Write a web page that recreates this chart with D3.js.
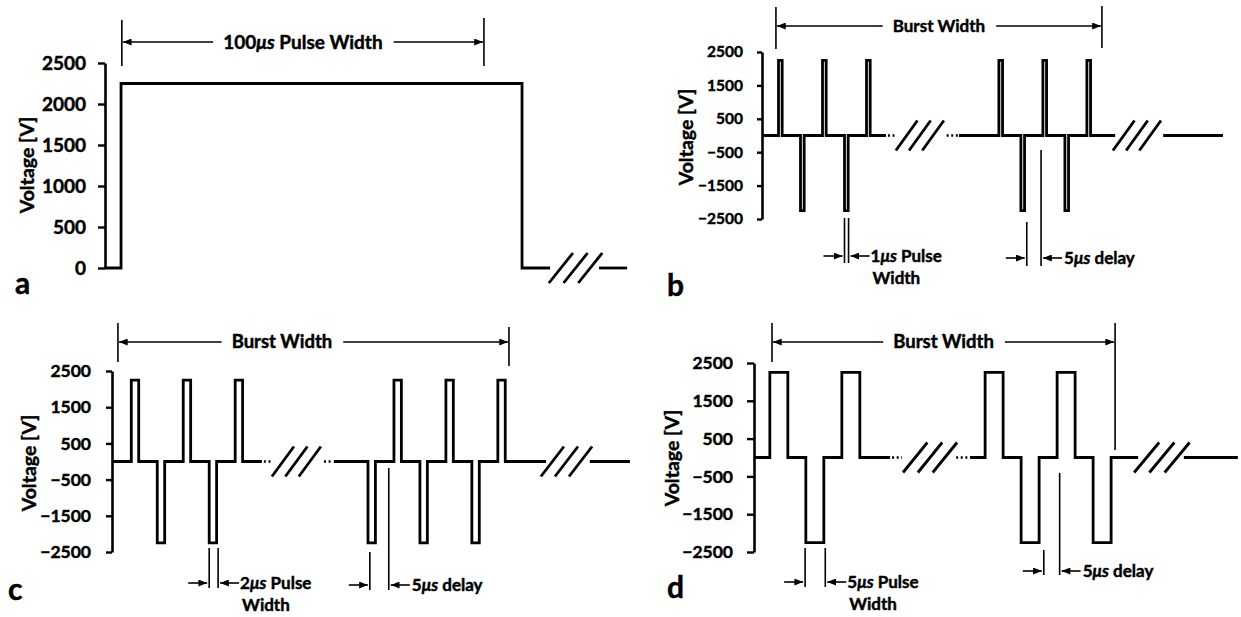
<!DOCTYPE html>
<html lang="en">
<head>
<meta charset="UTF-8">
<title>Pulse waveforms</title>
<script src="https://cdn.jsdelivr.net/npm/d3@7"></script>
<style>
  body { margin: 0; background: #fff; }
  svg { display: block; font-family: Lato, "Open Sans", sans-serif; font-weight: bold; }
  svg text { stroke: #000; stroke-width: 0.45px; }
  .trace { fill: none; stroke: #000; stroke-width: 2.8; stroke-linejoin: miter; }
  .dim { stroke: #000; stroke-width: 1.6; }
</style>
</head>
<body>
<svg id="chart" width="1241" height="617"></svg>
<script>
// ---- values ----
const ticksUnipolar = [0, 500, 1000, 1500, 2000, 2500];
const ticksBipolar = [2500, 1500, 500, -500, -1500, -2500];
const amplitude = 2250;          // V

// pulse widths in us
const widthA = 100, widthB = 1, widthC = 2, widthD = 5;

// pulses: [start time (us), polarity]
const pulsesA = [[4, 1]];
const pulsesB = [[4.5, 1], [10.5, -1], [16.5, 1], [22.5, -1], [28.5, 1],
                 [64.6, 1], [70.6, -1], [76.6, 1], [82.6, -1], [88.6, 1]];
const pulsesC = [[5.2, 1], [12.2, -1], [19.2, 1], [26.2, -1], [33.2, 1],
                 [69, -1], [76, 1], [83, -1], [90, 1], [97, -1], [104, 1]];
const pulsesD = [[4.4, 1], [14.4, -1], [24.4, 1],
                 [64.2, 1], [74.2, -1], [84.2, 1], [94.2, -1]];

// visible pieces of the 0 V trace [from, to] (us)
const traceA = [[0, 111], [123.2, 130.2]];
const traceB = [[0, 33.8], [53.7, 96.3], [109.4, 125.7]];
const traceC = [[0, 40.4], [59.8, 117], [128.8, 139.6]];
const traceD = [[0, 37.8], [60, 106.7], [119.4, 134.4]];

// time breaks drawn as ///  [from, to] (us)
const breaksA = [[110.7, 124]];
const breaksB = [[36.5, 49.6], [95.7, 108.8]];
const breaksC = [[43.1, 56.3], [115.6, 129.4]];
const breaksD = [[41.4, 56.4], [105.6, 121]];

// dotted lead-ins around the first break
const dotsB = [[33.8, 36.5], [49.8, 53.7]];
const dotsC = [[40.4, 43.1], [56.6, 59.8]];
const dotsD = [[37.8, 41.4], [55.6, 60]];

// annotation positions (us)
const burstA = [4.2, 94.5], burstB = [3.8, 92.7], burstC = [1.6, 107], burstD = [5, 100.3];
const burstTextC = 45.8;
const widthMarkB = [22.5, 23.6], widthMarkC = [26.2, 28.6], widthMarkD = [14.2, 19.8];
const delayMarkB = [72.2, 76.1], delayMarkC = [69.5, 74.6], delayMarkD = [80.5, 84.9];

// ---- layout ----
const svg = d3.select('#chart');
svg.append('defs').append('marker')
    .attr('id', 'arrow')
    .attr('viewBox', '0 0 10 8')
    .attr('refX', 10).attr('refY', 4)
    .attr('markerWidth', 9).attr('markerHeight', 7)
    .attr('markerUnits', 'userSpaceOnUse')
    .attr('orient', 'auto')
    .append('path').attr('d', 'M0,0 L10,4 L0,8 Z').attr('fill', '#000');

const panels = [
    { id: 'a', axisX: 105, pxPerUs: 4.01, yRange: [268, 63], domainV: [0, 2500], ticks: ticksUnipolar,
      tickSize: 7, tickPad: 12, tickFont: 19, ylabel: [27, 165], letter: [15, 294],
      width: widthA, pulses: pulsesA, trace: traceA, breaks: breaksA, dots: [], tailWidth: 2.8,
      burst: burstA, burstY: [20, 66], burstRightY: [18, 66], arrowY: 42, burstText: '100', burstFont: 19 },
    { id: 'b', axisX: 762, pxPerUs: 3.667, yRange: [219, 52], domainV: [-2500, 2500], ticks: ticksBipolar,
      tickSize: 5, tickPad: 14, tickFont: 15.5, ylabel: [686, 137], letter: [667, 296],
      width: widthB, pulses: pulsesB, trace: traceB, breaks: breaksB, dots: dotsB, tailWidth: 2.8,
      burst: burstB, burstY: [7, 49], burstRightY: [6, 48], arrowY: 26, burstFont: 17,
      wMark: widthMarkB, wMarkY: [218, 263], wArrowY: 256, wText: '1',
      dMark: delayMarkB, dMarkY: [222, 150, 266], dArrowY: 258 },
    { id: 'c', axisX: 112, pxPerUs: 3.71, yRange: [552, 371], domainV: [-2500, 2500], ticks: ticksBipolar,
      tickSize: 6, tickPad: 15, tickFont: 17.5, ylabel: [29, 463], letter: [8, 600],
      width: widthC, pulses: pulsesC, trace: traceC, breaks: breaksC, dots: dotsC, tailWidth: 4.4,
      burst: burstC, burstY: [323, 362], burstRightY: [327, 366], arrowY: 342, burstTextAt: burstTextC, burstFont: 18.5,
      wMark: widthMarkC, wMarkY: [548, 588], wArrowY: 583, wText: '2',
      dMark: delayMarkC, dMarkY: [552, 468, 590], dArrowY: 585 },
    { id: 'd', axisX: 754, pxPerUs: 3.6, yRange: [552, 363], domainV: [-2500, 2500], ticks: ticksBipolar,
      tickSize: 7, tickPad: 14, tickFont: 17.5, ylabel: [672, 458], letter: [667, 598],
      width: widthD, pulses: pulsesD, trace: traceD, breaks: breaksD, dots: dotsD, tailWidth: 4.4,
      burst: burstD, burstY: [323, 362], burstRightY: [323, 450], arrowY: 342, burstFont: 18.5,
      wMark: widthMarkD, wMarkY: [548, 587], wArrowY: 582, wText: '5',
      dMark: delayMarkD, dMarkY: [550, 473, 575], dArrowY: 571 }
];

function muText(sel, lead, rest) {
    sel.append('tspan').text(lead);
    sel.append('tspan').attr('font-style', 'italic').text('\u03bcs');
    sel.append('tspan').text(rest);
}

function arrow(g, x1, x2, y) {
    g.append('line').attr('class', 'dim')
        .attr('x1', x1).attr('x2', x2).attr('y1', y).attr('y2', y)
        .attr('marker-end', 'url(#arrow)');
}

panels.forEach(p => {
    const g = svg.append('g').attr('class', 'panel-' + p.id);
    const tMax = d3.max(p.trace, d => d[1]);
    const x = d3.scaleLinear().domain([0, tMax]).range([p.axisX, p.axisX + tMax * p.pxPerUs]);
    const y = d3.scaleLinear().domain(p.domainV).range(p.yRange);

    // axis
    const axis = g.append('g')
        .attr('transform', `translate(${p.axisX},0)`)
        .call(d3.axisLeft(y).tickValues(p.ticks).tickSize(p.tickSize).tickPadding(p.tickPad)
            .tickFormat(d3.format('d')).tickSizeOuter(0));
    axis.select('.domain').attr('stroke-width', 2.6);
    axis.selectAll('.tick line').attr('stroke-width', 2.4);
    axis.selectAll('.tick text').attr('font-size', p.tickFont).attr('font-family', 'Lato, sans-serif')
        .attr('font-weight', 'bold').attr('fill', '#000');

    // waveform pieces
    const line = d3.line().x(d => x(d[0])).y(d => y(d[1])).curve(d3.curveLinear);
    p.trace.forEach((seg, i) => {
        const pts = [[seg[0], 0]];
        p.pulses.filter(q => q[0] >= seg[0] && q[0] < seg[1]).forEach(q => {
            const v = amplitude * q[1];
            pts.push([q[0], 0], [q[0], v], [q[0] + p.width, v], [q[0] + p.width, 0]);
        });
        pts.push([seg[1], 0]);
        g.append('path').attr('class', 'trace').attr('d', line(pts))
            .attr('stroke-width', i === p.trace.length - 1 && i > 0 ? p.tailWidth : 2.8);
    });

    // dotted lead-ins
    p.dots.forEach(dt => {
        g.append('line').attr('x1', x(dt[0]) + 2).attr('x2', x(dt[1]) - 1)
            .attr('y1', y(0)).attr('y2', y(0))
            .attr('stroke', '#000').attr('stroke-width', 2.4).attr('stroke-dasharray', '2,2.6');
    });

    // /// break marks
    p.breaks.forEach(b => {
        const x0 = x(b[0]), span = x(b[1]) - x0;
        const w = span * 0.45, h = 30;
        [0, 1, 2].forEach(k => {
            const sx = x0 + k * span * 0.275;
            g.append('line').attr('x1', sx).attr('y1', y(0) + h / 2)
                .attr('x2', sx + w).attr('y2', y(0) - h / 2)
                .attr('stroke', '#000').attr('stroke-width', 2.8);
        });
    });

    // burst / pulse-width dimension on top
    const bx1 = x(p.burst[0]), bx2 = x(p.burst[1]);
    g.append('line').attr('class', 'dim').attr('x1', bx1).attr('x2', bx1)
        .attr('y1', p.burstY[0]).attr('y2', p.burstY[1]);
    g.append('line').attr('class', 'dim').attr('x1', bx2).attr('x2', bx2)
        .attr('y1', p.burstRightY[0]).attr('y2', p.burstRightY[1]);
    const cx = p.burstTextAt !== undefined ? x(p.burstTextAt) : (bx1 + bx2) / 2;
    const bt = g.append('text').attr('x', cx).attr('y', p.arrowY).attr('dy', '0.35em')
        .attr('text-anchor', 'middle').attr('font-size', p.burstFont);
    if (p.burstText) muText(bt, p.burstText, ' Pulse Width');
    else bt.text('Burst Width');
    const tw = bt.node().getComputedTextLength();
    arrow(g, cx - tw / 2 - 10, bx1 + 1, p.arrowY);
    arrow(g, cx + tw / 2 + 11, bx2 - 1, p.arrowY);

    // pulse width marker
    if (p.wMark) {
        const w1 = x(p.wMark[0]), w2 = x(p.wMark[1]);
        [w1, w2].forEach(xx => g.append('line').attr('class', 'dim')
            .attr('x1', xx).attr('x2', xx).attr('y1', p.wMarkY[0]).attr('y2', p.wMarkY[1]));
        arrow(g, w1 - 21, w1 - 2, p.wArrowY);
        arrow(g, w2 + 21, w2 + 2, p.wArrowY);
        const t1 = g.append('text').attr('x', w2 + 22).attr('y', p.wArrowY).attr('dy', '0.35em')
            .attr('font-size', 17);
        muText(t1, p.wText, ' Pulse');
        g.append('text').attr('x', w2 + 24).attr('y', p.wArrowY + 22).attr('dy', '0.35em')
            .attr('font-size', 17).text('Width');
    }

    // delay marker
    if (p.dMark) {
        const d1 = x(p.dMark[0]), d2 = x(p.dMark[1]);
        g.append('line').attr('class', 'dim').attr('x1', d1).attr('x2', d1)
            .attr('y1', p.dMarkY[0]).attr('y2', p.dMarkY[2]);
        g.append('line').attr('class', 'dim').attr('x1', d2).attr('x2', d2)
            .attr('y1', p.dMarkY[1]).attr('y2', p.dMarkY[2]);
        arrow(g, d1 - 21, d1 - 2, p.dArrowY);
        arrow(g, d2 + 21, d2 + 2, p.dArrowY);
        const t2 = g.append('text').attr('x', d2 + 23).attr('y', p.dArrowY).attr('dy', '0.35em')
            .attr('font-size', 17);
        muText(t2, '5', ' delay');
    }

    // y label and panel letter
    g.append('text')
        .attr('transform', `translate(${p.ylabel[0]},${p.ylabel[1]}) rotate(-90)`)
        .attr('text-anchor', 'middle').attr('dy', '0.35em')
        .attr('font-size', 19.5).text('Voltage [V]');
    g.append('text').attr('x', p.letter[0]).attr('y', p.letter[1])
        .attr('font-size', 30).text(p.id);
});
</script>
</body>
</html>
